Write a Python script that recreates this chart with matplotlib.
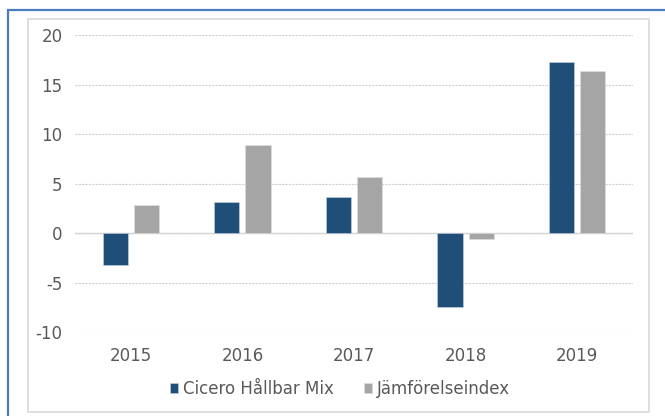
import matplotlib
matplotlib.use("Agg")
import matplotlib.pyplot as plt
from matplotlib.patches import Rectangle
import numpy as np

years = ["2015", "2016", "2017", "2018", "2019"]
cicero = [-3.2, 3.1, 3.6, -7.5, 17.3]
index = [2.8, 8.9, 5.7, -0.6, 16.4]
series_names = ["Cicero Hållbar Mix", "Jämförelseindex"]
yticks = [-10, -5, 0, 5, 10, 15, 20]

W, H = 665, 416
fig = plt.figure(figsize=(W / 100, H / 100), dpi=100)
fig.patch.set_facecolor("white")

# outer blue frame (extends past right/bottom edge)
fig.add_artist(Rectangle((8 / W, -0.1), 1.2, (H - 10) / H + 0.1, transform=fig.transFigure,
                         fill=False, edgecolor="#4a7ebb", linewidth=1.6))
# inner gray chart-area frame
fig.add_artist(Rectangle((28 / W, 1 - 412 / H), (649 - 28) / W, (412 - 19) / H,
                         transform=fig.transFigure, fill=False, edgecolor="#d9d9d9", linewidth=1.2))

ax = fig.add_axes([75 / W, 1 - 332 / H, (633 - 75) / W, (332 - 35) / H])
x = np.arange(len(years))
bw = 0.225
off = 0.14
ax.bar(x - off, cicero, bw, color="#1f4e79", edgecolor="#c9d3de", linewidth=0.4,
       label=series_names[0], zorder=3)
ax.bar(x + off, index, bw, color="#a5a5a5", edgecolor="#e0e0e0", linewidth=0.4,
       label=series_names[1], zorder=3)

ax.set_xlim(-0.5, len(years) - 0.5)
ax.set_ylim(-10, 20)
ax.set_yticks(yticks)
ax.set_yticklabels([str(v) for v in yticks])
ax.set_xticks(x)
ax.set_xticklabels(years)
ax.yaxis.grid(True, color="#d0d0d0", linewidth=0.8, linestyle=(0, (2, 1)), zorder=0)
ax.axhline(0, color="#d9d9d9", linewidth=1.0, zorder=1)
for s in ax.spines.values():
    s.set_visible(False)
ax.tick_params(axis="both", length=0, colors="#595959", labelsize=12)
ax.tick_params(axis="y", pad=9)
ax.tick_params(axis="x", pad=11)

leg = fig.legend(loc="center", bbox_to_anchor=(340 / W, 1 - 389 / H), ncol=2, frameon=False,
                 fontsize=12, handlelength=0.5, handleheight=0.5, handletextpad=0.3,
                 columnspacing=1.8)
for t in leg.get_texts():
    t.set_color("#595959")

fig.savefig("out.png", dpi=100)
